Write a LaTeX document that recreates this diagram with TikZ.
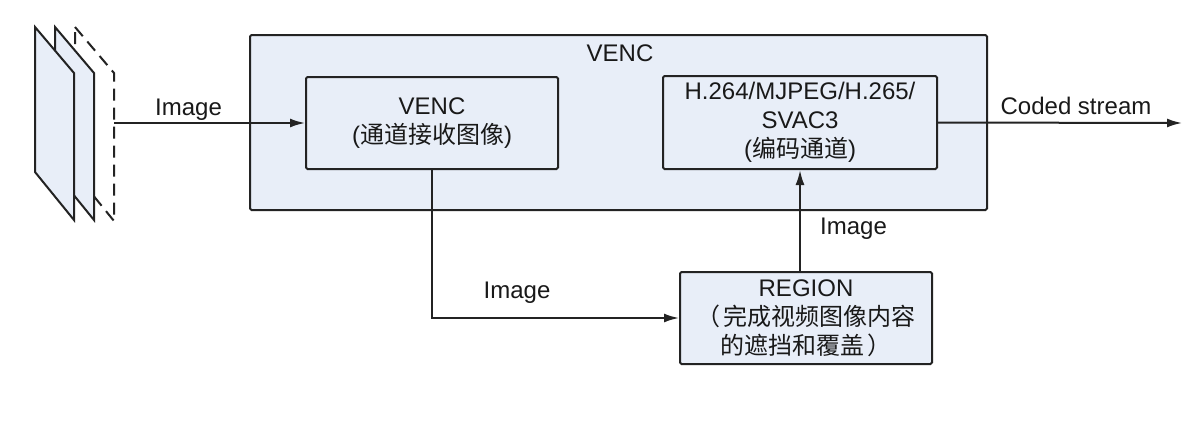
\documentclass[tikz,border=0pt]{standalone}
\usepackage{fontspec}
\setmainfont{Liberation Sans}
\newfontfamily\cjk{Noto Sans CJK SC}
\usetikzlibrary{arrows.meta}
\definecolor{boxfill}{RGB}{232,238,248}
\definecolor{ln}{RGB}{35,35,35}
\definecolor{txt}{RGB}{25,25,25}
\begin{document}
\begin{tikzpicture}[x=1pt,y=-1pt,
  every node/.style={text=txt},
  box/.style={draw=ln, fill=boxfill, line width=2pt, rounded corners=1.5pt,
    inner sep=0pt, align=center, font=\fontsize{24}{29}\selectfont},
  lbl/.style={inner sep=0pt, anchor=base, font=\fontsize{24}{29}\selectfont},
  arr/.style={draw=ln, line width=2pt, -{Latex[length=15pt,width=9pt]}},
  frame/.style={draw=ln, line width=2pt, fill=boxfill, line join=miter}]
\useasboundingbox (0,0) rectangle (1200,442);
\fill[white] (0,0) rectangle (1200,442);
% image frames
\draw[draw=ln, line width=2pt, fill=white, dash pattern=on 12pt off 7pt]
  (75,27) -- (114,73) -- (114,221) -- (75,173) -- cycle;
\draw[frame] (55,27) -- (94,73) -- (94,220) -- (55,172) -- cycle;
\draw[frame] (35,27) -- (74,73) -- (74,220) -- (35,172) -- cycle;
\coordinate (src) at (114,123);
% outer VENC
\node[box, minimum width=737pt, minimum height=175pt] (outer) at (618.5,122.5) {};
\node[lbl] (outerlbl) at (620,61) {VENC};
% inner boxes
\node[box, minimum width=252pt, minimum height=92pt] (venc) at (432,123)
  {VENC\\({\cjk 通道接收图像})};
\node[box, minimum width=274pt, minimum height=93pt] (enc) at (800,122.5)
  {H.264/MJPEG/H.265/\\SVAC3\\({\cjk 编码通道})};
\node[box, minimum width=252pt, minimum height=92pt] (region) at (806,318)
  {REGION\\{\cjk （\hspace{4pt}完成视频图像内容}\\{\cjk 的遮挡和覆盖\hspace{4pt}）}};
\coordinate (out) at (1182,123);
% connectors
\draw[arr] (src) -- (venc.west);
\draw[arr] (venc.south) |- (region.west);
\draw[arr] (enc.south |- region.north) -- (enc.south);
\draw[arr] (enc.east) -- (out);
% labels
\node[lbl] (l1) at (188.5,115) {Image};
\node[lbl] (l2) at (517,298) {Image};
\node[lbl] (l3) at (853.5,234) {Image};
\node[lbl] (l4) at (1076,114) {Coded stream};
\end{tikzpicture}
\end{document}
